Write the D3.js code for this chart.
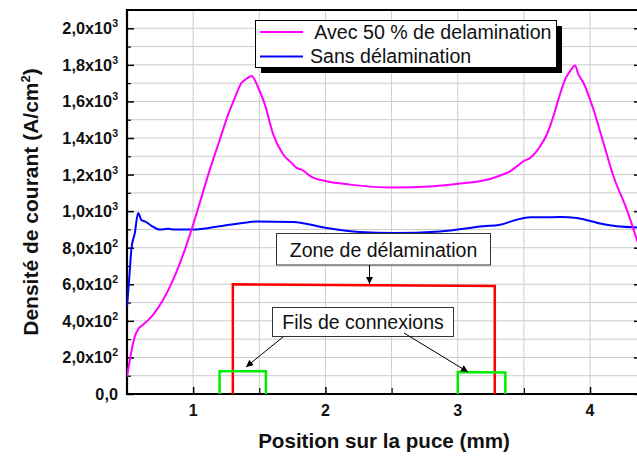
<!DOCTYPE html>
<html><head><meta charset="utf-8">
<script src="https://cdn.jsdelivr.net/npm/d3@7"></script>
<style>body{margin:0;background:#fff}svg{display:block}</style>
</head><body>
<script>
// ---- data ----
const xTicks = [1, 2, 3, 4];
const yTicks = [0, 200, 400, 600, 800, 1000, 1200, 1400, 1600, 1800, 2000];
const yTickMantissa = ["0,0","2,0","4,0","6,0","8,0","1,0","1,2","1,4","1,6","1,8","2,0"];
const yTickExp = [null,"2","2","2","2","3","3","3","3","3","3"];
const seriesNames = [" Avec 50 % de delamination", "Sans délamination"];
const avecX = [0.5,0.559,0.59,0.62,0.697,0.773,0.849,0.924,0.988,1.05,1.126,1.202,1.265,1.315,1.366,1.404,1.442,1.492,1.542,1.605,1.681,1.744,1.782,1.82,1.896,2.009,2.185,2.513,2.815,3.017,3.244,3.32,3.396,3.446,3.496,3.547,3.623,3.673,3.711,3.761,3.812,3.85,3.887,3.912,3.95,4.026,4.101,4.177,4.278,4.36];
const avecY = [95,314,360,378,433,515,625,762,899,1045,1227,1392,1529,1620,1702,1724,1739,1675,1584,1420,1310,1264,1237,1227,1187,1163,1145,1129,1136,1151,1176,1195,1218,1245,1273,1291,1355,1419,1492,1611,1721,1766,1797,1748,1702,1556,1374,1191,1008,830];
const sansX = [0.5,0.516,0.534,0.559,0.584,0.61,0.635,0.685,0.748,0.811,0.862,1.0,1.2,1.43,1.48,1.756,2.009,2.26,2.513,2.866,3.194,3.32,3.446,3.547,3.647,3.774,3.9,4.076,4.2,4.36];
const sansY = [478,625,798,880,990,950,944,920,899,904,899,899,917,941,944,941,908,886,880,889,917,926,953,966,966,968,963,932,917,911];
const zoneX = [1.3, 1.3, 3.28, 3.28];
const zoneY = [0, 600, 590, 0];
const fil1X = [1.2, 1.2, 1.55, 1.55];
const fil1Y = [0, 125, 125, 0];
const fil2X = [3.0, 3.0, 3.36, 3.36];
const fil2Y = [0, 120, 118, 0];
const annZone = "Zone de délamination";
const annFils = "Fils de connexions";
const xTitle = "Position sur la puce (mm)";

// ---- layout ----
const W = 637, H = 457;
const L = 127, R = 637, T = 10, B = 394;
const x = d3.scaleLinear().domain([0.5, 4.355]).range([L, R]);
const y = d3.scaleLinear().domain([0, 2100]).range([B, T]);

const svg = d3.select("body").append("svg").attr("width", W).attr("height", H)
  .style("font-family", "Arial, 'Liberation Sans', sans-serif");

svg.append("defs").append("clipPath").attr("id", "clip")
  .append("rect").attr("x", L).attr("y", T).attr("width", R - L).attr("height", B - T);
const mk = svg.select("defs").append("marker").attr("id", "arr")
  .attr("viewBox", "0 0 10 10").attr("refX", 10).attr("refY", 5)
  .attr("markerWidth", 9).attr("markerHeight", 7).attr("markerUnits", "userSpaceOnUse")
  .attr("orient", "auto");
mk.append("path").attr("d", "M0,0 L10,5 L0,10 Z").attr("fill", "#000");

// grid
const g = svg.append("g");
g.selectAll(".hg").data(d3.range(100, 2100, 100)).join("line")
  .attr("x1", L).attr("x2", R).attr("y1", d => y(d)).attr("y2", d => y(d))
  .attr("stroke", "#cccccc").attr("stroke-width", 1);
g.selectAll(".vg").data(d3.range(1, 4.5, 0.5)).join("line")
  .attr("y1", T).attr("y2", B).attr("x1", d => x(d)).attr("x2", d => x(d))
  .attr("stroke", "#cccccc").attr("stroke-width", 1);

// axes (inward ticks)
const yAxis = d3.axisRight(y).tickValues(yTicks).tickSize(7).tickFormat("");
svg.append("g").attr("transform", `translate(${L},0)`).call(yAxis)
  .call(s => s.select(".domain").remove())
  .call(s => s.selectAll("line").attr("stroke", "#000").attr("stroke-width", 1.5));
const yMinor = d3.axisRight(y).tickValues(d3.range(100, 2100, 200)).tickSize(4).tickFormat("");
svg.append("g").attr("transform", `translate(${L},0)`).call(yMinor)
  .call(s => s.select(".domain").remove())
  .call(s => s.selectAll("line").attr("stroke", "#000").attr("stroke-width", 1.2));
const yRight = d3.axisLeft(y).tickValues(yTicks).tickSize(3).tickFormat("");
svg.append("g").attr("transform", `translate(${R},0)`).call(yRight)
  .call(s => s.select(".domain").remove())
  .call(s => s.selectAll("line").attr("stroke", "#000").attr("stroke-width", 1.5));
const xAxis = d3.axisTop(x).tickValues(xTicks).tickSize(7).tickFormat("");
svg.append("g").attr("transform", `translate(0,${B})`).call(xAxis)
  .call(s => s.select(".domain").remove())
  .call(s => s.selectAll("line").attr("stroke", "#000").attr("stroke-width", 1.5));
const xMinor = d3.axisTop(x).tickValues([1.5, 2.5, 3.5]).tickSize(6).tickFormat("");
svg.append("g").attr("transform", `translate(0,${B})`).call(xMinor)
  .call(s => s.select(".domain").remove())
  .call(s => s.selectAll("line").attr("stroke", "#000").attr("stroke-width", 1.2));

// frame
svg.append("line").attr("x1", L).attr("x2", R).attr("y1", T).attr("y2", T).attr("stroke", "#000").attr("stroke-width", 1.8);
svg.append("line").attr("x1", L).attr("x2", L).attr("y1", T - 1).attr("y2", B + 1).attr("stroke", "#000").attr("stroke-width", 2.2);
svg.append("line").attr("x1", L - 1).attr("x2", R).attr("y1", B).attr("y2", B).attr("stroke", "#000").attr("stroke-width", 2.2);

// tick labels
const yl = svg.append("g").attr("font-weight", "bold").attr("fill", "#111");
yTicks.forEach((v, i) => {
  const t = yl.append("text").attr("x", 118).attr("y", y(v) + 6).attr("text-anchor", "end").attr("font-size", 16.3);
  t.append("tspan").text(yTickMantissa[i] + (yTickExp[i] ? "x10" : ""));
  if (yTickExp[i]) t.append("tspan").attr("dy", -7).attr("font-size", 10.5).text(yTickExp[i]);
});
svg.append("g").selectAll("text").data(xTicks).join("text")
  .attr("x", d => x(d)).attr("y", 416).attr("text-anchor", "middle")
  .attr("font-weight", "bold").attr("font-size", 16).attr("fill", "#111").text(d => d);

// titles
svg.append("text").attr("x", 384).attr("y", 448).attr("text-anchor", "middle")
  .attr("font-weight", "bold").attr("font-size", 20.6).attr("fill", "#111").text(xTitle);
const yt = svg.append("text").attr("transform", "translate(38,202) rotate(-90)").attr("text-anchor", "middle")
  .attr("font-weight", "bold").attr("font-size", 21).attr("fill", "#111");
yt.append("tspan").text("Densité de courant (A/cm");
yt.append("tspan").attr("dy", -8).attr("font-size", 13).text("2");
yt.append("tspan").attr("dy", 8).text(")");

// data
const line = d3.line().x(d => x(d[0])).y(d => y(d[1]));
const plot = svg.append("g").attr("clip-path", "url(#clip)");
const rect = (xs, ys) => xs.map((v, i) => [v, ys[i]]);
plot.append("path").attr("d", line(rect(zoneX, zoneY))).attr("fill", "none").attr("stroke", "#ff0000").attr("stroke-width", 2.5);
plot.append("path").attr("d", line(rect(fil1X, fil1Y))).attr("fill", "none").attr("stroke", "#00ee00").attr("stroke-width", 2.5);
plot.append("path").attr("d", line(rect(fil2X, fil2Y))).attr("fill", "none").attr("stroke", "#00ee00").attr("stroke-width", 2.5);
const curve = d3.line().x(d => x(d[0])).y(d => y(d[1])).curve(d3.curveMonotoneX);
plot.append("path").attr("d", curve(rect(sansX, sansY))).attr("fill", "none").attr("stroke", "#0000ff").attr("stroke-width", 2);
plot.append("path").attr("d", curve(rect(avecX, avecY))).attr("fill", "none").attr("stroke", "#ff00ff").attr("stroke-width", 2);

// legend
const lg = svg.append("g");
lg.append("rect").attr("x", 261).attr("y", 26).attr("width", 301).attr("height", 47).attr("fill", "#000");
lg.append("rect").attr("x", 255.5).attr("y", 20.5).attr("width", 301).attr("height", 47).attr("fill", "#fff").attr("stroke", "#000").attr("stroke-width", 1);
lg.append("line").attr("x1", 260).attr("x2", 303).attr("y1", 32).attr("y2", 32).attr("stroke", "#ff00ff").attr("stroke-width", 2);
lg.append("line").attr("x1", 260).attr("x2", 303).attr("y1", 56.5).attr("y2", 56.5).attr("stroke", "#0000ff").attr("stroke-width", 2);
lg.append("text").attr("x", 310).attr("y", 38.5).attr("font-size", 19.6).attr("fill", "#111").attr("xml:space", "preserve").style("white-space", "pre").text(seriesNames[0]);
lg.append("text").attr("x", 310).attr("y", 63).attr("font-size", 19.6).attr("fill", "#111").text(seriesNames[1]);

// annotations
const ann = svg.append("g");
ann.append("rect").attr("x", 276.5).attr("y", 233.5).attr("width", 214).attr("height", 31.5).attr("fill", "#fff").attr("stroke", "#333").attr("stroke-width", 1);
ann.append("text").attr("x", 383.5).attr("y", 256.5).attr("text-anchor", "middle").attr("font-size", 19.5).attr("fill", "#111").text(annZone);
ann.append("line").attr("x1", 369.5).attr("y1", 265).attr("x2", 369.5).attr("y2", 284).attr("stroke", "#000").attr("stroke-width", 1).attr("marker-end", "url(#arr)");
ann.append("rect").attr("x", 272.5).attr("y", 307.5).attr("width", 181).attr("height", 29).attr("fill", "#fff").attr("stroke", "#333").attr("stroke-width", 1);
ann.append("text").attr("x", 363).attr("y", 328.5).attr("text-anchor", "middle").attr("font-size", 19.5).attr("fill", "#111").text(annFils);
ann.append("line").attr("x1", 283).attr("y1", 337).attr("x2", 246).attr("y2", 367).attr("stroke", "#000").attr("stroke-width", 1).attr("marker-end", "url(#arr)");
ann.append("line").attr("x1", 404).attr("y1", 333).attr("x2", 468).attr("y2", 372).attr("stroke", "#000").attr("stroke-width", 1).attr("marker-end", "url(#arr)");
</script>
</body></html>
